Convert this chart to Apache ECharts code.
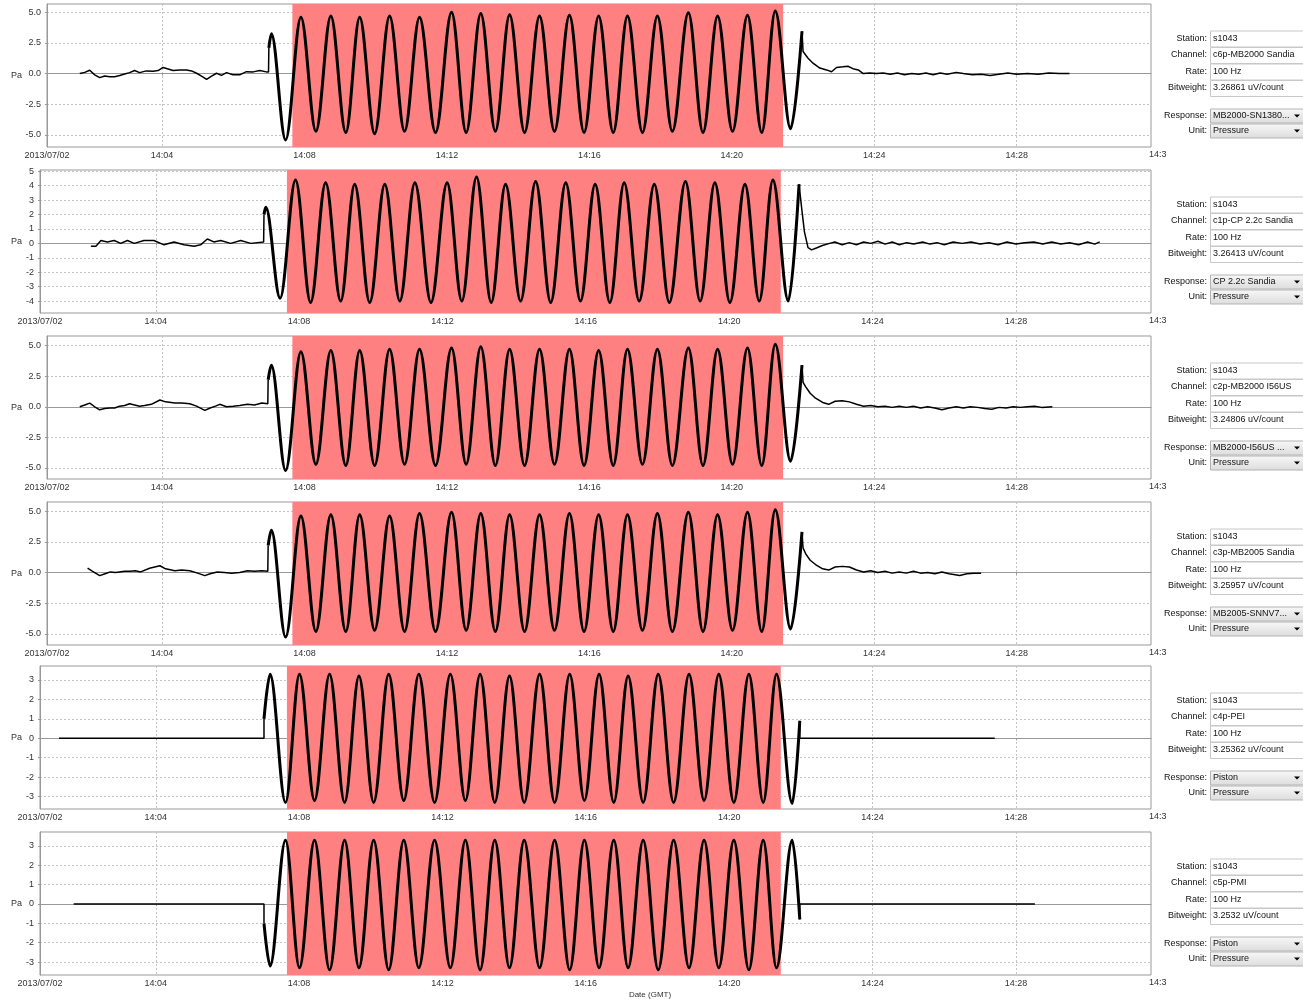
<!DOCTYPE html>
<html>
<head>
<meta charset="utf-8">
<script src="https://cdn.jsdelivr.net/npm/echarts@6/dist/echarts.min.js"></script>
<style>
  html, body { margin: 0; padding: 0; background: #fff; }
  #chart { width: 1303px; height: 999px; }
</style>
</head>
<body>
<div id="chart"></div>
<script>
// x values are minutes after 14:00 GMT
const xMin = 0.77
const xMax = 31.77
const xTickValues = [0.77, 4, 8, 12, 16, 20, 24, 28]
const xTickLabels = ["2013/07/02", "14:04", "14:08", "14:12", "14:16", "14:20", "14:24", "14:28"]
const bandStart = 7.66
const bandEnd = 21.44

const mbTicks = [-5, -2.5, 0, 2.5, 5]
const cpTicks = [-4, -3, -2, -1, 0, 1, 2, 3, 4, 5]
const pistonTicks = [-3, -2, -1, 0, 1, 2, 3]

// side panel texts
const stations = ["s1043", "s1043", "s1043", "s1043", "s1043", "s1043"]
const channels = ["c6p-MB2000 Sandia", "c1p-CP 2.2c Sandia", "c2p-MB2000 I56US", "c3p-MB2005 Sandia", "c4p-PEI", "c5p-PMI"]
const rates = ["100 Hz", "100 Hz", "100 Hz", "100 Hz", "100 Hz", "100 Hz"]
const bitweights = ["3.26861 uV/count", "3.26413 uV/count", "3.24806 uV/count", "3.25957 uV/count", "3.25362 uV/count", "3.2532 uV/count"]
const responses = ["MB2000-SN1380...", "CP 2.2c Sandia", "MB2000-I56US ...", "MB2005-SNNV7...", "Piston", "Piston"]
const units = ["Pressure", "Pressure", "Pressure", "Pressure", "Pressure", "Pressure"]

// peak / trough times of the oscillation (microbarometers and pistons)
const mbExtT = [7.07, 7.47, 7.90, 8.32, 8.74, 9.16, 9.55, 9.97, 10.39, 10.81, 11.23, 11.68,
  12.13, 12.54, 12.95, 13.36, 13.76, 14.18, 14.60, 15.02, 15.44, 15.85, 16.26, 16.67,
  17.07, 17.49, 17.91, 18.33, 18.78, 19.19, 19.60, 20.02, 20.44, 20.84, 21.22, 21.65]
const pistonExtT = [7.19, 7.62, 8.01, 8.43, 8.85, 9.27, 9.67, 10.08, 10.50, 10.92, 11.34, 11.78,
  12.22, 12.64, 13.05, 13.46, 13.87, 14.28, 14.71, 15.13, 15.55, 15.96, 16.37, 16.78,
  17.18, 17.60, 18.02, 18.45, 18.88, 19.30, 19.71, 20.13, 20.55, 20.95, 21.32, 21.76]

// c6p-MB2000 Sandia
const c6pPre = [[1.69, 0.0], [1.83, 0.1], [1.97, 0.27], [2.11, -0.1], [2.25, -0.33], [2.39, -0.2], [2.53, -0.25],
  [2.67, -0.25], [2.81, -0.15], [2.95, -0.03], [3.09, 0.08], [3.23, 0.25], [3.37, 0.08], [3.56, 0.22], [3.75, 0.2],
  [3.89, 0.25], [4.03, 0.5], [4.17, 0.38], [4.31, 0.25], [4.50, 0.3], [4.69, 0.3], [4.83, 0.22], [4.97, 0.03],
  [5.11, -0.2], [5.25, -0.47], [5.39, -0.2], [5.53, 0.03], [5.67, -0.15], [5.81, 0.08], [5.99, -0.1], [6.18, -0.1],
  [6.37, 0.16], [6.56, 0.14], [6.74, 0.25], [6.93, 0.14], [6.99, 0.14], [7.00, 2.1]]
const c6pExtV = [3.25, -5.4, 4.6, -4.7, 4.7, -4.8, 4.6, -4.9, 4.7, -4.7, 4.6, -4.8, 5.0, -4.8, 4.9, -4.7, 4.8, -4.8,
  4.7, -4.7, 4.75, -4.8, 4.7, -4.8, 4.7, -4.8, 4.7, -4.7, 4.95, -4.8, 4.7, -4.7, 4.75, -4.8, 5.1, -4.5]
const c6pPost = [[21.97, 3.45], [22.00, 1.8], [22.05, 1.65], [22.14, 1.25], [22.28, 0.85], [22.47, 0.45], [22.66, 0.3],
  [22.80, 0.15], [22.94, 0.5], [23.12, 0.55], [23.26, 0.6], [23.40, 0.4], [23.55, 0.3], [23.69, 0.0], [23.87, 0.05],
  [24.06, 0.0], [24.25, 0.05], [24.45, -0.05], [24.65, 0.05], [24.85, -0.1], [25.05, 0.0], [25.25, -0.05], [25.45, 0.05],
  [25.65, -0.1], [25.85, 0.05], [26.05, -0.05], [26.30, 0.1], [26.50, 0.0], [26.75, -0.1], [27.00, -0.05], [27.25, -0.15],
  [27.50, -0.05], [27.75, 0.05], [28.00, -0.05], [28.30, 0.0], [28.60, -0.05], [28.90, 0.05], [29.20, 0.0], [29.48, 0.0]]

// c1p-CP 2.2c Sandia
const c1pPre = [[2.19, -0.2], [2.33, -0.2], [2.47, 0.2], [2.65, 0.1], [2.84, 0.2], [3.02, 0.0], [3.21, 0.2], [3.40, 0.0],
  [3.67, 0.2], [3.95, 0.2], [4.23, -0.1], [4.51, 0.1], [4.79, -0.1], [5.07, -0.2], [5.25, -0.1], [5.44, 0.3], [5.62, 0.1],
  [5.81, 0.2], [6.09, 0.0], [6.37, 0.2], [6.65, 0.0], [7.01, 0.1], [7.02, 2.0]]
const c1pExtV = [2.5, -3.8, 4.4, -4.1, 4.2, -4.0, 4.1, -4.1, 4.1, -4.0, 4.2, -4.1, 4.2, -4.0, 4.6, -4.1, 4.1, -4.0,
  4.3, -4.1, 4.2, -4.0, 4.1, -4.1, 4.2, -4.0, 4.1, -4.1, 4.3, -4.0, 4.2, -4.1, 4.1, -4.0, 4.4, -4.0]
const c1pPost = [[21.95, 4.1], [22.02, 2.5], [22.10, 0.8], [22.20, -0.3], [22.30, -0.45], [22.45, -0.3], [22.60, -0.15],
  [22.80, 0.0], [22.95, 0.1], [23.15, -0.1], [23.35, 0.05], [23.55, -0.1], [23.75, 0.1], [23.95, 0.0], [24.15, 0.15],
  [24.35, -0.05], [24.55, 0.1], [24.75, -0.1], [24.95, 0.05], [25.15, -0.05], [25.40, 0.1], [25.60, -0.05], [25.80, 0.05],
  [26.00, -0.1], [26.25, 0.1], [26.50, 0.0], [26.75, 0.1], [27.00, -0.05], [27.25, 0.05], [27.50, -0.1], [27.75, 0.1],
  [28.00, -0.05], [28.25, 0.05], [28.50, 0.1], [28.75, -0.05], [29.00, 0.1], [29.25, -0.05], [29.50, 0.05],
  [29.75, -0.1], [30.00, 0.1], [30.20, -0.05], [30.34, 0.1]]

// c2p-MB2000 I56US
const c2pPre = [[1.69, 0.0], [1.83, 0.15], [1.97, 0.3], [2.11, 0.0], [2.25, -0.25], [2.39, -0.15], [2.53, -0.1],
  [2.67, -0.1], [2.81, 0.05], [2.95, 0.1], [3.09, 0.25], [3.23, 0.15], [3.37, 0.05], [3.51, 0.1], [3.70, 0.2],
  [3.94, 0.55], [4.10, 0.4], [4.36, 0.3], [4.55, 0.3], [4.78, 0.25], [4.97, 0.05], [5.20, -0.3], [5.35, -0.1],
  [5.50, 0.05], [5.62, 0.2], [5.81, 0.0], [6.00, 0.05], [6.18, 0.1], [6.40, 0.2], [6.60, 0.15], [6.80, 0.3],
  [6.97, 0.25], [6.98, 2.2]]
const c2pExtV = [3.4, -5.2, 4.5, -4.7, 4.6, -4.8, 4.6, -4.8, 4.7, -4.7, 4.7, -4.8, 4.8, -4.7, 4.9, -4.8, 4.7, -4.8,
  4.7, -4.7, 4.7, -4.8, 4.6, -4.8, 4.7, -4.7, 4.7, -4.8, 4.8, -4.8, 4.7, -4.7, 4.8, -4.8, 5.1, -4.45]
const c2pPost = [[21.97, 3.4], [22.00, 2.0], [22.08, 1.6], [22.20, 1.1], [22.35, 0.7], [22.55, 0.35], [22.72, 0.2],
  [22.90, 0.45], [23.10, 0.5], [23.30, 0.4], [23.50, 0.2], [23.70, 0.05], [23.90, 0.1], [24.10, 0.0], [24.30, 0.05],
  [24.50, -0.05], [24.70, 0.05], [24.90, -0.05], [25.10, 0.05], [25.30, -0.1], [25.50, 0.0], [25.70, -0.1],
  [25.90, -0.25], [26.10, -0.1], [26.30, 0.0], [26.50, -0.1], [26.70, 0.0], [26.90, -0.05], [27.10, -0.15],
  [27.30, -0.2], [27.50, -0.05], [27.70, -0.1], [27.90, 0.0], [28.10, -0.05], [28.30, 0.0], [28.50, 0.05],
  [28.70, -0.05], [29.00, 0.0]]

// c3p-MB2005 Sandia
const c3pPre = [[1.91, 0.35], [2.05, 0.1], [2.25, -0.25], [2.40, -0.1], [2.55, 0.05], [2.70, 0.0], [2.95, 0.1],
  [3.10, 0.1], [3.25, 0.15], [3.40, 0.05], [3.65, 0.35], [3.94, 0.55], [4.10, 0.3], [4.36, 0.15], [4.55, 0.2],
  [4.78, 0.15], [5.00, -0.05], [5.20, -0.25], [5.35, -0.1], [5.55, 0.05], [5.75, 0.0], [5.95, -0.05], [6.18, 0.0],
  [6.40, 0.15], [6.60, 0.1], [6.80, 0.15], [6.97, 0.1], [6.98, 2.2]]
const c3pExtV = [3.45, -5.25, 4.6, -4.8, 4.7, -4.8, 4.7, -4.7, 4.6, -4.8, 4.8, -4.8, 4.9, -4.7, 4.8, -4.8, 4.7, -4.8,
  4.7, -4.7, 4.8, -4.8, 4.7, -4.8, 4.7, -4.7, 4.8, -4.8, 4.9, -4.8, 4.7, -4.7, 4.9, -4.8, 5.1, -4.6]
const c3pPost = [[21.97, 3.3], [22.00, 2.0], [22.08, 1.5], [22.20, 1.0], [22.35, 0.65], [22.55, 0.3], [22.72, 0.2],
  [22.90, 0.45], [23.10, 0.5], [23.30, 0.45], [23.50, 0.2], [23.70, 0.05], [23.90, 0.15], [24.10, 0.0], [24.30, 0.1],
  [24.50, -0.05], [24.70, 0.05], [24.90, -0.05], [25.10, 0.1], [25.30, -0.05], [25.50, 0.0], [25.70, -0.1],
  [25.90, 0.05], [26.10, -0.1], [26.40, -0.25], [26.60, -0.1], [26.80, -0.05], [27.00, -0.05]]

// c4p-PEI
const c4pPre = [[1.30, 0], [7.02, 0], [7.02, 1.0]]
const c4pExtV = [3.3, -3.3, 3.3, -3.2, 3.3, -3.3, 3.2, -3.3, 3.3, -3.2, 3.3, -3.3, 3.3, -3.2, 3.3, -3.3, 3.2, -3.3,
  3.3, -3.3, 3.3, -3.2, 3.3, -3.3, 3.2, -3.3, 3.3, -3.3, 3.3, -3.2, 3.3, -3.3, 3.3, -3.3, 3.3, -3.35]
const c4pPost = [[21.97, 0.9], [21.97, 0], [27.41, 0]]

// c5p-PMI
const c5pPre = [[1.71, 0], [7.02, 0], [7.02, -1.0]]
const c5pExtV = [-3.2, 3.3, -3.3, 3.3, -3.4, 3.3, -3.3, 3.3, -3.4, 3.3, -3.3, 3.3, -3.3, 3.3, -3.4, 3.3, -3.3, 3.3,
  -3.3, 3.3, -3.4, 3.3, -3.3, 3.3, -3.3, 3.3, -3.4, 3.3, -3.3, 3.3, -3.3, 3.3, -3.4, 3.3, -3.3, 3.3]
const c5pPost = [[21.97, -0.8], [21.97, 0], [28.53, 0]]

// 布局
const gridTops = [4, 170, 336, 502, 666, 832]
const gridLefts = [47, 40, 47, 47, 40, 40]
const gridHeight = 143
const gridRight = 152
const yRanges = [[-5.98, 5.67], [-4.83, 5.09], [-5.9, 5.78], [-5.9, 5.74], [-3.64, 3.72], [-3.67, 3.72]]

const traces = [
  { pre: c6pPre, extT: mbExtT, extV: c6pExtV, post: c6pPost, ticks: mbTicks },
  { pre: c1pPre, extT: mbExtT, extV: c1pExtV, post: c1pPost, ticks: cpTicks },
  { pre: c2pPre, extT: mbExtT, extV: c2pExtV, post: c2pPost, ticks: mbTicks },
  { pre: c3pPre, extT: mbExtT, extV: c3pExtV, post: c3pPost, ticks: mbTicks },
  { pre: c4pPre, extT: pistonExtT, extV: c4pExtV, post: c4pPost, ticks: pistonTicks },
  { pre: c5pPre, extT: pistonExtT, extV: c5pExtV, post: c5pPost, ticks: pistonTicks },
]

const axisFont = { fontFamily: "Liberation Sans", fontSize: 9, color: "#333" }
const uiFont = '9px "Liberation Sans"'

const xLabel = (v) => {
  let best = 0
  xTickValues.forEach((t, i) => {
    if (Math.abs(t - v) < Math.abs(xTickValues[best] - v)) best = i
  })
  return xTickLabels[best]
}

const grids = []
const xAxes = []
const yAxes = []
const series = []
const graphics = []

traces.forEach((tr, i) => {
  grids.push({
    left: gridLefts[i],
    right: gridRight,
    top: gridTops[i],
    height: gridHeight,
    show: true,
    borderColor: "#999",
    borderWidth: 1,
    backgroundColor: "#fff",
  })

  xAxes.push({
    type: "value",
    gridIndex: i,
    min: xMin,
    max: xMax,
    axisLine: { lineStyle: { color: "#999" } },
    axisTick: { show: true, length: 2, lineStyle: { color: "#999" }, customValues: xTickValues },
    axisLabel: { ...axisFont, margin: 4, customValues: xTickValues, formatter: xLabel },
    splitLine: { show: true, lineStyle: { color: "#c4c4c4", type: [2, 2] } },
  })

  const isMb = tr.ticks === mbTicks
  yAxes.push({
    type: "value",
    gridIndex: i,
    min: yRanges[i][0],
    max: yRanges[i][1],
    name: "Pa",
    nameLocation: "middle",
    nameRotate: 0,
    nameMoveOverlap: false,
    nameGap: gridLefts[i] - 22,
    nameTextStyle: axisFont,
    axisLine: { show: true, lineStyle: { color: "#999" } },
    axisTick: { show: true, length: 2, lineStyle: { color: "#999" }, customValues: tr.ticks },
    axisLabel: {
      ...axisFont,
      margin: 6,
      customValues: tr.ticks,
      formatter: (v) => (isMb ? v.toFixed(1) : String(Math.round(v))),
    },
    splitLine: { show: true, lineStyle: { color: "#c4c4c4", type: [2, 2] } },
  })

  // 振荡段: 连接前后两段
  const osc = [tr.pre[tr.pre.length - 1]]
  tr.extT.forEach((t, k) => osc.push([t, tr.extV[k]]))
  osc.push(tr.post[0])

  const base = {
    type: "line",
    xAxisIndex: i,
    yAxisIndex: i,
    showSymbol: false,
    symbol: "none",
    silent: true,
    animation: false,
  }
  series.push({
    ...base,
    data: tr.pre,
    lineStyle: { color: "#000", width: 1.5 },
    markArea: {
      silent: true,
      itemStyle: { color: "#ff8080", opacity: 1 },
      data: [[{ xAxis: bandStart }, { xAxis: bandEnd }]],
    },
  })
  series.push({
    ...base,
    data: osc,
    smooth: 0.35,
    smoothMonotone: "x",
    lineStyle: { color: "#000", width: 3, join: "round" },
  })
  series.push({ ...base, data: tr.post, lineStyle: { color: "#000", width: 1.5 } })

  // clipped 14:32 tick label
  graphics.push({
    type: "text",
    style: { text: "14:3", x: 1149, y: gridTops[i] + gridHeight + 8, textVerticalAlign: "middle", font: uiFont, fill: "#333" },
  })

  // 右侧信息面板
  const oy = gridTops[i] - 4
  const rows = [
    ["Station:", stations[i], 38.5],
    ["Channel:", channels[i], 55],
    ["Rate:", rates[i], 71.5],
    ["Bitweight:", bitweights[i], 88],
  ]
  rows.forEach(([lab, val, cy]) => {
    graphics.push({
      type: "rect",
      shape: { x: 1210.5, y: oy + cy - 7.5, width: 94, height: 16 },
      style: { fill: "#fff", stroke: "#c8c8c8", lineWidth: 1 },
    })
    graphics.push({
      type: "text",
      style: { text: lab, x: 1207, y: oy + cy, textAlign: "right", textVerticalAlign: "middle", font: uiFont, fill: "#111" },
    })
    graphics.push({
      type: "text",
      style: { text: val, x: 1213, y: oy + cy, textVerticalAlign: "middle", font: uiFont, fill: "#111" },
    })
  })
  const drops = [
    ["Response:", responses[i], 115.5],
    ["Unit:", units[i], 130.5],
  ]
  drops.forEach(([lab, val, cy]) => {
    graphics.push({
      type: "rect",
      shape: { x: 1210.5, y: oy + cy - 6.5, width: 94, height: 14 },
      style: {
        fill: new echarts.graphic.LinearGradient(0, 0, 0, 1, [
          { offset: 0, color: "#f8f8f8" },
          { offset: 1, color: "#dcdcdc" },
        ]),
        stroke: "#b4b4b4",
        lineWidth: 1,
      },
    })
    graphics.push({
      type: "polygon",
      shape: { points: [[1294, oy + cy - 1], [1300, oy + cy - 1], [1297, oy + cy + 2]] },
      style: { fill: "#000" },
    })
    graphics.push({
      type: "text",
      style: { text: lab, x: 1207, y: oy + cy, textAlign: "right", textVerticalAlign: "middle", font: uiFont, fill: "#111" },
    })
    graphics.push({
      type: "text",
      style: { text: val, x: 1213, y: oy + cy, textVerticalAlign: "middle", font: uiFont, fill: "#111" },
    })
  })
})

graphics.push({
  type: "text",
  style: { text: "Date (GMT)", x: 650, y: 995, textAlign: "center", textVerticalAlign: "middle", font: '8px "Liberation Sans"', fill: "#333" },
})

const myChart = echarts.init(document.getElementById("chart"))
myChart.setOption({
  animation: false,
  backgroundColor: "#fff",
  grid: grids,
  xAxis: xAxes,
  yAxis: yAxes,
  series: series,
  graphic: graphics,
})
</script>
</body>
</html>
